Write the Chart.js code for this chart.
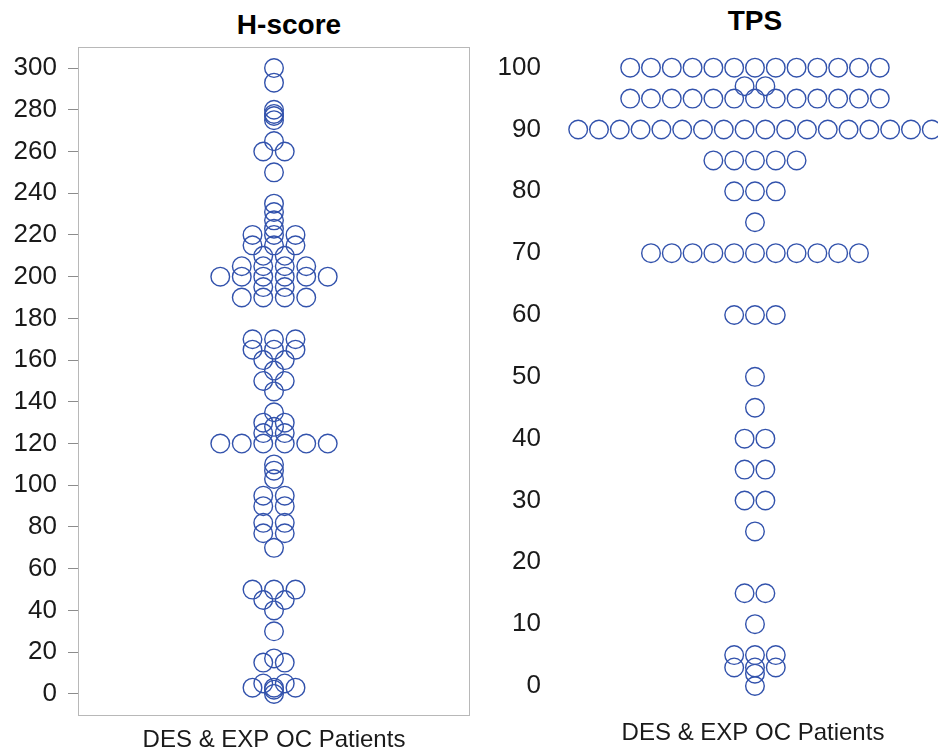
<!DOCTYPE html>
<html>
<head>
<meta charset="utf-8">
<script src="https://cdn.jsdelivr.net/npm/chart.js@4.4.1/dist/chart.umd.min.js"></script>
<style>
  body { margin: 0; background: #fff; width: 938px; height: 752px; position: relative; overflow: hidden; font-family: Arial, "Liberation Sans", sans-serif; }
  .panel { position: absolute; top: 0; height: 752px; }
  .panel-title { position: absolute; font-size: 28px; font-weight: bold; line-height: 1; color: #000; transform: translateX(-50%); white-space: nowrap; }
</style>
</head>
<body>
<div class="panel-title" style="left:289px; top:11px">H-score</div>
<div class="panel-title" style="left:755px; top:7px">TPS</div>
<div class="panel" style="left:0; width:480px"><canvas id="hscoreChart" width="480" height="752"></canvas></div>
<div class="panel" style="left:480px; width:458px"><canvas id="tpsChart" width="458" height="752"></canvas></div>

<script>
// H-score: each distinct value and how many patients had it
const hValues = [300, 293, 280, 278, 277, 275, 265, 260, 250,
  235, 231, 227, 223, 220, 215, 210, 205, 200, 195, 190,
  170, 165, 160, 155, 150, 145,
  135, 130, 128, 125, 120,
  110, 107, 103, 95, 90, 82, 77, 70,
  50, 45, 40, 30,
  17, 15, 5, 3, 2, 0];
const hCounts = [1, 1, 1, 1, 1, 1, 1, 2, 1,
  1, 1, 1, 1, 3, 3, 2, 4, 6, 2, 4,
  3, 3, 2, 1, 2, 1,
  1, 2, 1, 2, 6,
  1, 1, 1, 2, 2, 2, 2, 1,
  3, 2, 1, 1,
  1, 2, 2, 3, 1, 1];
const hTicks = [0, 20, 40, 60, 80, 100, 120, 140, 160, 180, 200, 220, 240, 260, 280, 300];

// TPS (%)
const tpsValues = [100, 97, 95, 90, 85, 80, 75, 70, 60, 50, 45, 40, 35, 30, 25, 15, 10, 5, 3, 2, 0];
const tpsCounts = [13, 2, 13, 18, 5, 3, 1, 11, 3, 1, 1, 2, 2, 2, 1, 2, 1, 3, 3, 1, 1];
const tpsTicks = [0, 10, 20, 30, 40, 50, 60, 70, 80, 90, 100];

const categoryLabel = 'DES & EXP OC Patients';

// equal values sit side by side in one row, centred on the column
function swarm(values, counts) {
  const pts = [];
  values.forEach((v, i) => {
    const n = counts[i];
    for (let k = 0; k < n; k++) pts.push({ x: k - (n - 1) / 2, y: v });
  });
  return pts;
}

const frame = {
  id: 'frame',
  beforeDatasetsDraw(chart, args, opts) {
    if (!opts.show) return;
    const { ctx, chartArea: a } = chart;
    ctx.save();
    ctx.strokeStyle = opts.color;
    ctx.lineWidth = 1;
    ctx.strokeRect(a.left + 0.5, a.top + 0.5, a.width - 1, a.height - 1);
    ctx.restore();
  }
};

function makeChart(id, points, ticks, cfg) {
  const ctx = document.getElementById(id).getContext('2d');
  return new Chart(ctx, {
    type: 'scatter',
    data: {
      datasets: [{
        data: points,
        pointRadius: 9.3,
        pointBorderWidth: 1.4,
        pointBackgroundColor: 'rgba(0,0,0,0)',
        pointBorderColor: 'rgb(50, 82, 172)',
        clip: false
      }]
    },
    options: {
      responsive: false,
      animation: false,
      events: [],
      layout: { padding: cfg.padding, autoPadding: false },
      plugins: {
        legend: { display: false },
        tooltip: { enabled: false },
        frame: { show: cfg.frame, color: '#b8b8b8' }
      },
      scales: {
        x: {
          type: 'linear',
          min: cfg.xMin,
          max: cfg.xMax,
          grid: { display: false, drawTicks: false },
          border: { display: false },
          ticks: { display: false },
          title: {
            display: true,
            text: categoryLabel,
            color: '#1a1a1a',
            font: { family: 'Arial, "Liberation Sans"', size: 24, lineHeight: 1 },
            padding: { top: 12, bottom: 0 }
          }
        },
        y: {
          min: cfg.yMin,
          max: cfg.yMax,
          afterBuildTicks: axis => { axis.ticks = ticks.map(value => ({ value })); },
          afterFit: axis => { axis.width = cfg.axisWidth; },
          grid: { drawOnChartArea: false, drawTicks: cfg.tickLength > 0, tickLength: cfg.tickLength, color: '#8c8c8c' },
          border: { display: false },
          ticks: {
            color: '#1a1a1a',
            padding: cfg.tickPadding,
            font: { family: 'Arial, "Liberation Sans"', size: 26 }
          }
        }
      }
    },
    plugins: [frame]
  });
}

makeChart('hscoreChart', swarm(hValues, hCounts), hTicks, {
  padding: { top: 47, bottom: 0, left: 0, right: 10 },
  axisWidth: 78,
  tickLength: 10,
  tickPadding: 11,
  frame: true,
  xMin: -9.12, xMax: 9.12,
  yMin: -10.6, yMax: 310.08
});

makeChart('tpsChart', swarm(tpsValues, tpsCounts), tpsTicks, {
  padding: { top: 40, bottom: 7, left: 0, right: 0 },
  axisWidth: 88,
  tickLength: 0,
  tickPadding: 27,
  frame: false,
  xMin: -8.99, xMax: 8.8,
  yMin: -3.72, yMax: 104.05
});
</script>
</body>
</html>
